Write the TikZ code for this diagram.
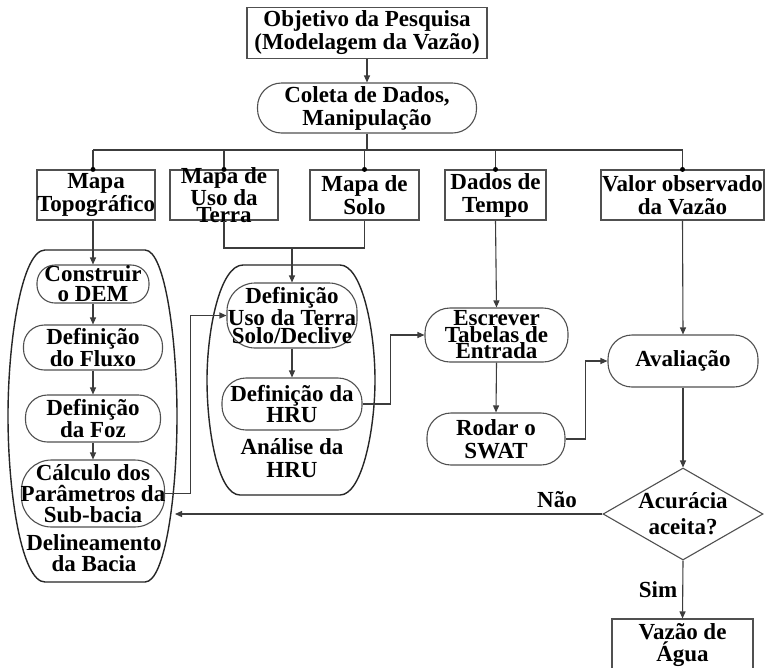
\documentclass[tikz,border=0pt]{standalone}
\usepackage{fontspec}
\setmainfont{Liberation Serif}
\usetikzlibrary{arrows.meta,shapes.geometric}
\definecolor{linec}{HTML}{3C3C3C}
\definecolor{boxc}{HTML}{505050}
\tikzset{
  base/.style={draw=boxc, line width=1.1pt, inner sep=0pt, fill=white},
  sq/.style={base, rectangle},
  rr/.style={base, rectangle, rounded corners=#1},
  dia/.style={base, diamond},
  txt/.style={font=\fontsize{23}{#1}\selectfont\bfseries, align=center, inner sep=0pt, text=black},
  txt/.default=23,
  conn/.style={draw=linec, line width=1.1pt},
  arr/.style={conn, -{Triangle[length=7pt,width=6pt]}},
  dotc/.style={circle, fill=black, inner sep=0pt, minimum size=5pt},
  cont/.style={draw=black!85, line width=1.4pt},
}
\begin{document}
\begin{tikzpicture}[x=1pt,y=-1pt]
\useasboundingbox (0,0) rectangle (765,667);
\clip (0,0) rectangle (765,667);
\fill[white] (0,0) rectangle (765,667);

% containers
\draw[cont] (45,250) -- (145,250) .. controls (165,250) and (177,340) .. (177,416)
  .. controls (177,495) and (165,582) .. (145,582) -- (45,582)
  .. controls (22,582) and (8,495) .. (8,416) .. controls (8,340) and (22,250) .. (45,250) -- cycle;
\coordinate (delinE) at (175,514);
\draw[cont] (243,265) -- (340,265) .. controls (362,265) and (375,330) .. (375,380)
  .. controls (375,430) and (362,495) .. (340,495) -- (240,495)
  .. controls (218,495) and (207,430) .. (207,380) .. controls (207,330) and (220,265) .. (243,265) -- cycle;

% top
\node[sq, minimum width=240pt, minimum height=51pt,
  label={[txt=23]center:{Objetivo da Pesquisa\\(Modelagem da Vazão)}}] (obj) at (367,33) {};
\node[rr=24pt, minimum width=219pt, minimum height=50pt,
  label={[txt=23]center:{Coleta de Dados,\\Manipulação}}] (col) at (367,108) {};

% data boxes
\node[sq, minimum width=118pt, minimum height=50pt,
  label={[txt=23]center:{Mapa\\\makebox[0pt]{Topográfico}}}] (topo) at (96,195) {};
\node[sq, minimum width=108pt, minimum height=50pt,
  label={[txt=16.5]center:{Mapa de\\Uso da\\Terra}}] (uso) at (224,195) {};
\node[sq, minimum width=109pt, minimum height=50pt,
  label={[txt=23]center:{Mapa de\\Solo}}] (solo) at (364.5,195) {};
\node[sq, minimum width=101pt, minimum height=50pt,
  label={[txt=23]center:{Dados de\\Tempo}}] (tempo) at (495.5,195) {};
\node[sq, minimum width=163pt, minimum height=50pt,
  label={[txt=23]center:{\makebox[0pt]{Valor observado}\\da Vazão}}] (valor) at (682.5,195) {};

% left column
\node[rr=18pt, minimum width=112pt, minimum height=38pt,
  label={[txt=20]center:{Construir\\o DEM}}] (cons) at (93,284) {};
\node[rr=21pt, minimum width=139pt, minimum height=45pt,
  label={[txt=22]center:{Definição\\do Fluxo}}] (flux) at (93,347.5) {};
\node[rr=22pt, minimum width=135pt, minimum height=47pt,
  label={[txt=22]center:{Definição\\da Foz}}] (foz) at (93,418.5) {};
\node[rr=30pt, minimum width=143pt, minimum height=67pt,
  label={[txt=21]center:{Cálculo dos\\\makebox[0pt]{Parâmetros da}\\Sub-bacia}}] (calc) at (93,493.5) {};
\node[txt=21] (delin) at (94,553) {\makebox[0pt]{Delineamento}\\da Bacia};

% middle column
\node[rr=28pt, minimum width=130pt, minimum height=65pt,
  label={[txt=17.5]center:{Definição\\\makebox[0pt]{Uso da Terra}\\\makebox[0pt]{Solo/Declive}}}] (defuso) at (292,315.5) {};
\node[rr=24pt, minimum width=140pt, minimum height=52pt,
  label={[txt=21]center:{\makebox[0pt]{Definição da}\\HRU}}] (hru) at (292,404) {};
\node[txt=23] (anal) at (292,458) {Análise da\\HRU};

% right part
\node[rr=25pt, minimum width=143pt, minimum height=54pt,
  label={[txt=16.5]center:{Escrever\\Tabelas de\\Entrada}}] (esc) at (496.5,335) {};
\node[rr=24pt, minimum width=138pt, minimum height=52pt,
  label={[txt=23]center:{Rodar o\\SWAT}}] (rod) at (496,439) {};
\node[rr=24pt, minimum width=150pt, minimum height=52pt,
  label={[txt=22]center:{Avaliação}}] (aval) at (683,361) {};
\node[dia, minimum width=160pt, minimum height=92pt,
  label={[txt=26]center:{Acurácia\\aceita?}}] (acu) at (683,514) {};
\node[sq, minimum width=141pt, minimum height=52pt,
  label={[txt=22]center:{Vazão de\\Água}}] (vaz) at (682.5,645) {};
\node[txt] (nao) at (557,500) {Não};
\node[txt] (sim) at (658,590) {Sim};

% connectors
\draw[arr] (obj.south) -- (col.north);
\coordinate (bus) at (367,150);
\draw[conn] (col.south) -- (bus);
\draw[conn] (bus -| cons.north) -- (bus -| valor.north);
\draw[conn] (bus -| cons.north) -- (topo.north -| cons.north) node[dotc] (d1) {};
\draw[conn] (bus -| uso.north) -- (uso.north) node[dotc] (d2) {};
\draw[conn] (bus -| solo.north) -- (solo.north) node[dotc] (d3) {};
\draw[conn] (bus -| tempo.north) -- (tempo.north) node[dotc] (d4) {};
\draw[conn] (bus -| valor.north) -- (valor.north) node[dotc] (d5) {};

\draw[arr] (topo.south -| cons.north) -- (cons.north);
\draw[arr] (cons.south) -- (flux.north);
\draw[arr] (flux.south) -- (foz.north);
\draw[arr] (foz.south) -- (calc.north);

\coordinate (join) at (292,248);
\draw[conn] (uso.south) |- (join);
\draw[conn] (solo.south) |- (join);
\draw[arr] (join) -- (defuso.north);
\draw[arr] (calc.east) -- ++(25,0) |- (defuso.west);
\draw[arr] (defuso.south) -- (hru.north);
\draw[arr] (hru.east) -- ++(28,0) |- (esc.west);

\draw[arr] (tempo.south) -- (esc.north);
\draw[arr] (esc.south) -- (rod.north);
\draw[arr] (rod.east) -- ++(20,0) |- (aval.west);
\draw[arr] (valor.south) -- (aval.north);
\draw[arr] (aval.south) -- (acu.north);
\draw[arr] (acu.west) -- (delinE);
\draw[arr] (acu.south) -- (vaz.north);
\end{tikzpicture}
\end{document}
